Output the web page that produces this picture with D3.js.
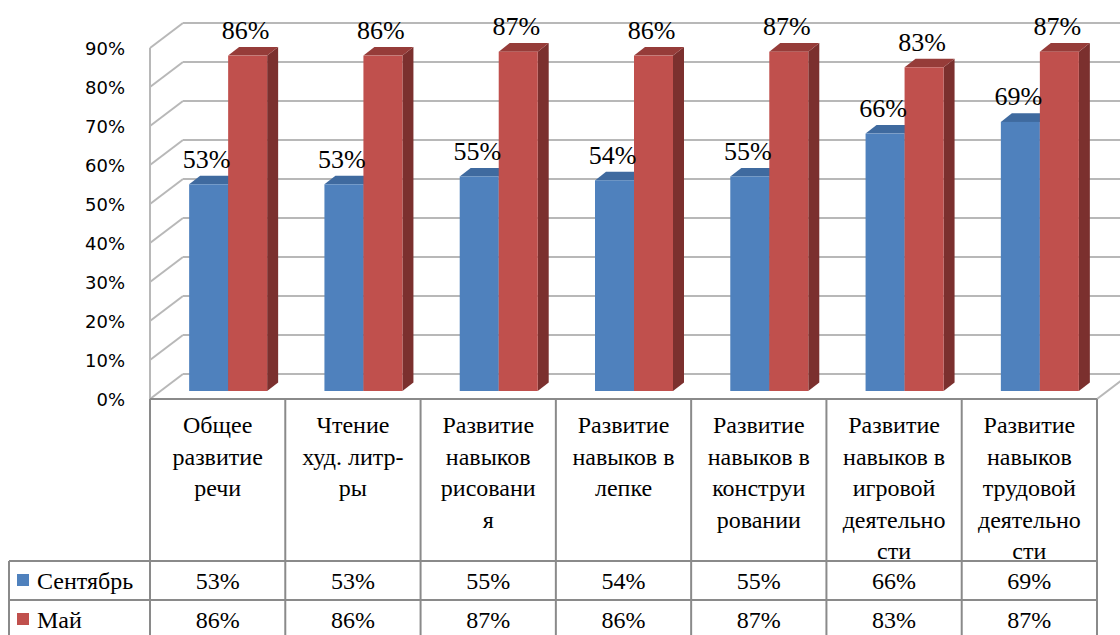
<!DOCTYPE html>
<html>
<head>
<meta charset="UTF-8">
<script src="https://d3js.org/d3.v7.min.js"></script>
<style>
  body { margin: 0; background: #fff; }
  svg text { font-family: 'Liberation Serif'; }
  svg text.ylab { font-family: 'DejaVu Sans'; }
</style>
</head>
<body>
<script>
// data
var categories = ["Общее развитие речи", "Чтение худ. литр-ры", "Развитие навыков рисования",
  "Развитие навыков в лепке", "Развитие навыков в конструировании",
  "Развитие навыков в игровой деятельности", "Развитие навыков трудовой деятельности"];
var categoryLines = [
  ["Общее", "развитие", "речи"],
  ["Чтение", "худ. литр-", "ры"],
  ["Развитие", "навыков", "рисовани", "я"],
  ["Развитие", "навыков в", "лепке"],
  ["Развитие", "навыков в", "конструи", "ровании"],
  ["Развитие", "навыков в", "игровой", "деятельно", "сти"],
  ["Развитие", "навыков", "трудовой", "деятельно", "сти"]
];
var seriesNames = ["Сентябрь", "Май"];
var september = [0.53, 0.53, 0.55, 0.54, 0.55, 0.66, 0.69];
var may = [0.86, 0.86, 0.87, 0.86, 0.87, 0.83, 0.87];
var yTicks = [0, 0.1, 0.2, 0.3, 0.4, 0.5, 0.6, 0.7, 0.8, 0.9];

var seriesValues = [september, may];
var colors = [
  {front: "#4f81bd", top: "#3f6a9f", side: "#2f5380"},
  {front: "#c0504d", top: "#963c39", side: "#7b302e"}
];

var W = 1120, H = 635;
var svg = d3.select("body").append("svg").attr("width", W).attr("height", H)
  .style("display", "block");

// plot geometry
var left = 150, right = 1097, floorY = 399, topY = 48;
var wallDx = 33, wallDy = -25;   // depth of the 3d box
var barOffX = 10.5, barOffY = -8; // bars stand a third into the box
var barDx = 11, barDy = -8.6;     // depth of a bar

var y = d3.scaleLinear().domain([0, 0.9]).range([floorY, topY]);
var x = d3.scaleBand().domain(d3.range(categories.length)).range([left, right]);
var xs = d3.scaleBand().domain(d3.range(seriesNames.length)).range([0, 78]);

var fmt = d3.format(".0%");
var gridColor = "#b8b8b8";

// left wall + back wall gridlines
var grid = svg.append("g");
yTicks.forEach(function(t) {
  var yf = y(t);
  grid.append("line").attr("x1", left).attr("y1", yf)
    .attr("x2", left + wallDx).attr("y2", yf + wallDy);
  grid.append("line").attr("x1", left + wallDx).attr("y1", yf + wallDy)
    .attr("x2", right + wallDx).attr("y2", yf + wallDy);
});
grid.append("line").attr("x1", left).attr("y1", y(0)).attr("x2", left).attr("y2", y(0.9));
grid.append("line").attr("x1", right).attr("y1", floorY)
  .attr("x2", right + wallDx).attr("y2", floorY + wallDy);
grid.selectAll("line").attr("stroke", gridColor).attr("stroke-width", 2);

// y axis labels
svg.append("g").selectAll("text").data(yTicks).enter().append("text")
  .attr("class", "ylab")
  .attr("x", 125).attr("y", function(d) { return y(d) + 7; })
  .attr("text-anchor", "end")
  .attr("font-size", 18)
  .attr("fill", "#000")
  .text(fmt);

// bars
var bars = svg.append("g");
categories.forEach(function(c, i) {
  seriesValues.forEach(function(vals, s) {
    var v = vals[i];
    var x0 = x(i) + x.bandwidth() / 2 - 39 + barOffX + xs(s);
    var x1 = x0 + xs.bandwidth();
    var yb = y(0) + barOffY;
    var yt = y(v) + barOffY;
    var col = colors[s];
    bars.append("polygon")
      .attr("points", [[x1, yt], [x1 + barDx, yt + barDy], [x1 + barDx, yb + barDy], [x1, yb]].join(" "))
      .attr("fill", col.side);
    bars.append("polygon")
      .attr("points", [[x0, yt], [x0 + barDx, yt + barDy], [x1 + barDx, yt + barDy], [x1, yt]].join(" "))
      .attr("fill", col.top);
    bars.append("rect")
      .attr("x", x0).attr("y", yt).attr("width", x1 - x0).attr("height", yb - yt)
      .attr("fill", col.front);
  });
});

// data labels
var labels = svg.append("g");
categories.forEach(function(c, i) {
  seriesValues.forEach(function(vals, s) {
    var v = vals[i];
    var cx = x(i) + x.bandwidth() / 2 - 39 + barOffX + xs(s) + xs.bandwidth() / 2;
    labels.append("text")
      .attr("x", cx - 2).attr("y", y(v) + barOffY + barDy - 8)
      .attr("text-anchor", "middle")
      .attr("font-size", 26)
      .text(fmt(v));
  });
});

// data table
var tableColor = "#8a8a8a";
var tLeft = 9, rowH = 39, headBottom = 561;
var table = svg.append("g");
table.append("line").attr("x1", left).attr("y1", floorY).attr("x2", right).attr("y2", floorY);
for (var k = 0; k <= categories.length; k++) {
  var xx = left + k * x.bandwidth();
  table.append("line").attr("x1", xx).attr("y1", floorY).attr("x2", xx).attr("y2", headBottom + 2 * rowH);
}
for (var r = 0; r <= 2; r++) {
  table.append("line").attr("x1", tLeft).attr("y1", headBottom + r * rowH)
    .attr("x2", right).attr("y2", headBottom + r * rowH);
}
table.append("line").attr("x1", tLeft).attr("y1", headBottom).attr("x2", tLeft).attr("y2", headBottom + 2 * rowH);
table.selectAll("line").attr("stroke", tableColor).attr("stroke-width", 2);

// category headers
categoryLines.forEach(function(lines, i) {
  lines.forEach(function(ln, j) {
    table.append("text")
      .attr("x", x(i) + x.bandwidth() / 2)
      .attr("y", 433 + j * 31.6)
      .attr("text-anchor", "middle")
      .attr("font-size", 24)
      .text(ln);
  });
});

// table rows
seriesNames.forEach(function(name, s) {
  var base = headBottom + s * rowH + 28;
  table.append("rect").attr("x", 17).attr("y", base - 15).attr("width", 12).attr("height", 12)
    .attr("fill", colors[s].front);
  table.append("text").attr("x", 37).attr("y", base)
    .attr("font-size", 24).text(name);
  seriesValues[s].forEach(function(v, i) {
    table.append("text")
      .attr("x", x(i) + x.bandwidth() / 2).attr("y", base)
      .attr("text-anchor", "middle")
      .attr("font-size", 24).text(fmt(v));
  });
});
</script>
</body>
</html>
